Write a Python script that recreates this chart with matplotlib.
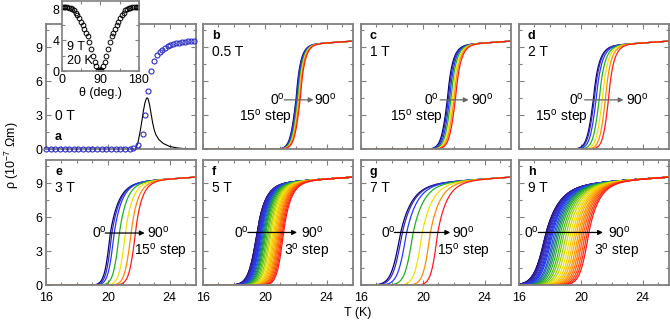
import matplotlib
matplotlib.use("Agg")
import matplotlib.pyplot as plt
import numpy as np
from matplotlib.colors import LinearSegmentedColormap
from matplotlib.ticker import MultipleLocator

plt.rcParams["font.family"] = ["Liberation Sans", "DejaVu Sans"]
plt.rcParams["mathtext.fontset"] = "custom"
plt.rcParams["mathtext.rm"] = "Liberation Sans"
FS = 9

# normal-state resistivity line (T, rho)
NORMAL_T = [16.0, 26.0]
NORMAL_RHO = [8.6, 9.55]

# panel a: 0 T resistivity (circles) and derivative-like peak (line)
A_T = [16.0, 16.3, 16.6, 16.9, 17.2, 17.5, 17.8, 18.1, 18.4, 18.7, 19.0, 19.3,
       19.6, 19.9, 20.2, 20.5, 20.8, 21.1, 21.4, 21.62, 21.98, 22.25, 22.4,
       22.6, 22.8, 22.98, 23.18, 23.35, 23.5, 23.67, 23.86, 24.05, 24.24,
       24.43, 24.62, 24.81, 25.0, 25.19, 25.38, 25.57]
A_RHO = [0.0] * 19 + [0.1, 0.35, 1.37, 3.03, 5.16, 6.85, 7.78, 8.28, 8.57,
                      8.77, 8.95, 9.07, 9.17, 9.25, 9.32, 9.38, 9.43, 9.47,
                      9.51, 9.54, 9.57]
PEAK_T = [16.0, 21.5, 21.8, 21.95, 22.1, 22.2, 22.3, 22.4, 22.5, 22.55, 22.6,
          22.7, 22.8, 22.9, 23.0, 23.1, 23.3, 23.6, 24.0, 24.5, 25.0, 25.7]
PEAK_VAL = [0.0, 0.0, 0.05, 0.6, 1.66, 2.5, 3.4, 4.1, 4.5, 4.52, 4.45, 3.9,
            3.1, 2.3, 1.7, 1.3, 0.85, 0.5, 0.25, 0.12, 0.05, 0.02]

# inset: angular dependence at 9 T, 20 K
THETA = list(range(0, 181, 4))
THETA_RHO = [8.3, 8.3, 8.3, 8.28, 8.25, 8.2, 8.1, 7.9, 7.6, 7.25, 6.85, 6.4,
             5.95, 5.5, 5.0, 4.5, 3.8, 2.8, 1.9, 1.2, 0.6, 0.15, 0.05,
             0.15, 0.6, 1.2, 1.9, 2.8, 3.8, 4.5, 5.0, 5.5, 5.95, 6.4, 6.85,
             7.25, 7.6, 7.9, 8.1, 8.2, 8.25, 8.28, 8.3, 8.3, 8.3, 8.3]

# transitions: midpoint T, lower width, upper width for each angle
B_TM = [22.03, 22.06, 22.10, 22.15, 22.20, 22.25, 22.30]
B_WL = [0.40, 0.40, 0.40, 0.40, 0.40, 0.40, 0.40]
B_TAU = [0.26, 0.26, 0.26, 0.26, 0.26, 0.26, 0.26]
C_TM = [21.60, 21.66, 21.74, 21.83, 21.93, 22.03, 22.12]
C_WL = [0.42, 0.42, 0.42, 0.42, 0.42, 0.42, 0.42]
C_TAU = [0.30, 0.30, 0.30, 0.30, 0.30, 0.30, 0.30]
D_TM = [20.82, 20.88, 21.00, 21.20, 21.40, 21.60, 21.80]
D_WL = [0.43, 0.43, 0.42, 0.41, 0.40, 0.39, 0.38]
D_TAU = [0.33, 0.33, 0.33, 0.32, 0.31, 0.30, 0.30]
E_TM = [20.15, 20.25, 20.40, 20.74, 21.13, 21.50, 21.78]
E_WL = [0.38, 0.38, 0.39, 0.40, 0.41, 0.42, 0.42]
E_TAU = [0.55, 0.53, 0.50, 0.47, 0.44, 0.42, 0.40]
G_TM = [18.53, 18.64, 18.92, 19.35, 19.94, 20.47, 20.95]
G_WL = [0.60, 0.59, 0.56, 0.53, 0.49, 0.46, 0.43]
G_TAU = [0.72, 0.71, 0.69, 0.67, 0.65, 0.62, 0.60]

F_TM = [19.48, 19.48, 19.49, 19.51, 19.53, 19.56, 19.59, 19.63, 19.68, 19.72,
        19.76, 19.82, 19.88, 19.94, 20.00, 20.06, 20.14, 20.22, 20.31, 20.39,
        20.48, 20.56, 20.63, 20.71, 20.79, 20.86, 20.92, 20.99, 21.06, 21.13,
        21.20]
F_WL = [0.56, 0.56, 0.55, 0.55, 0.55, 0.54, 0.54, 0.54, 0.53, 0.53, 0.53,
        0.52, 0.52, 0.51, 0.51, 0.51, 0.50, 0.50, 0.49, 0.49, 0.48, 0.48,
        0.47, 0.47, 0.46, 0.46, 0.45, 0.45, 0.44, 0.44, 0.43]
F_TAU = [0.50, 0.50, 0.50, 0.50, 0.50, 0.49, 0.49, 0.49, 0.49, 0.49, 0.48,
         0.48, 0.48, 0.48, 0.48, 0.47, 0.47, 0.47, 0.47, 0.47, 0.46, 0.46,
         0.46, 0.46, 0.46, 0.46, 0.45, 0.45, 0.45, 0.45, 0.45]
H_TM = [17.70, 17.71, 17.72, 17.74, 17.78, 17.83, 17.88, 17.95, 18.02, 18.08,
        18.15, 18.25, 18.34, 18.44, 18.54, 18.65, 18.78, 18.90, 19.04, 19.18,
        19.32, 19.45, 19.58, 19.70, 19.83, 19.94, 20.05, 20.16, 20.28, 20.39,
        20.50]
H_WL = [0.75, 0.75, 0.75, 0.74, 0.74, 0.73, 0.73, 0.72, 0.72, 0.71, 0.71,
        0.70, 0.70, 0.69, 0.69, 0.68, 0.67, 0.67, 0.66, 0.66, 0.65, 0.64,
        0.64, 0.63, 0.62, 0.62, 0.61, 0.60, 0.59, 0.58, 0.57]
H_TAU = [0.85, 0.85, 0.85, 0.84, 0.84, 0.83, 0.83, 0.82, 0.82, 0.81, 0.81,
         0.80, 0.80, 0.79, 0.79, 0.78, 0.77, 0.77, 0.76, 0.76, 0.75, 0.74,
         0.73, 0.72, 0.71, 0.70, 0.69, 0.68, 0.67, 0.66, 0.65]

ANGLE_COLORS = ["#000080", "#3f2aa3", "#1f3cff", "#1fb01f", "#f2e200",
                "#ff8c00", "#ff1a1a"]

# letter, field label, curves, (0deg x, arrow start, arrow end, 90deg x, y),
# (step text, x, y), arrow colour
PANELS = [
    ("b", "0.5 T", (B_TM, B_WL, B_TAU), (20.82, 21.25, 23.15, 23.9, 4.35),
     ("15$^\\mathrm{o}$ step", 20.02, 2.8), "#666666"),
    ("c", "1 T", (C_TM, C_WL, C_TAU), (20.55, 21.12, 22.96, 23.83, 4.35),
     ("15$^\\mathrm{o}$ step", 19.6, 2.8), "#666666"),
    ("d", "2 T", (D_TM, D_WL, D_TAU), (19.72, 20.24, 22.76, 23.63, 4.35),
     ("15$^\\mathrm{o}$ step", 18.77, 2.8), "#666666"),
    ("e", "3 T", (E_TM, E_WL, E_TAU), (19.46, 19.83, 22.38, 23.28, 4.6),
     ("15$^\\mathrm{o}$ step", 23.4, 2.95), "black"),
    ("f", "5 T", (F_TM, F_WL, F_TAU), (18.51, 18.9, 22.08, 23.05, 4.65),
     ("3$^\\mathrm{o}$ step", 22.72, 2.95), "black"),
    ("g", "7 T", (G_TM, G_WL, G_TAU), (17.77, 18.16, 21.77, 22.64, 4.65),
     ("15$^\\mathrm{o}$ step", 22.64, 2.95), "black"),
    ("h", "9 T", (H_TM, H_WL, H_TAU), (16.82, 17.25, 21.43, 22.5, 4.65),
     ("3$^\\mathrm{o}$ step", 22.33, 2.95), "black"),
]


def transition(t, tm, wl, tau):
    rn = np.interp(t, NORMAL_T, NORMAL_RHO)
    g = np.where(t < tm, 0.5 * (1 + np.tanh((t - tm) / wl)),
                 1 - 0.5 * np.exp(-(t - tm) / tau))
    return rn * g


def style(ax, row, col):
    ax.set_xlim(16, 25.7)
    ax.set_ylim(0, 11)
    ax.set_xticks([16, 20, 24])
    ax.set_yticks([0, 3, 6, 9])
    ax.xaxis.set_minor_locator(MultipleLocator(1))
    ax.yaxis.set_minor_locator(MultipleLocator(1.5))
    ax.tick_params(which="both", direction="in", top=True, right=True,
                   color="#808080", width=0.8, labelsize=FS)
    ax.tick_params(axis="x", pad=4.5)
    ax.tick_params(axis="y", pad=2.5)
    ax.tick_params(which="major", length=3.5)
    ax.tick_params(which="minor", length=2.5)
    for s in ax.spines.values():
        s.set_color("#808080")
        s.set_linewidth(1.3)
    if row == 0:
        ax.tick_params(labelbottom=False)
    if col > 0:
        ax.tick_params(labelleft=False)


def main() -> None:
    fig = plt.figure(figsize=(6.7, 3.27), dpi=100)
    cmap = LinearSegmentedColormap.from_list("angles", ANGLE_COLORS)
    lefts = [46, 203, 361, 519]
    bottoms = [1 - 149.3 / 327, 1 - 285.3 / 327]
    w, h = 150 / 670, 125 / 327
    axes = []
    for r in range(2):
        for c in range(4):
            ax = fig.add_axes([lefts[c] / 670, bottoms[r], w, h])
            style(ax, r, c)
            axes.append(ax)

    t = np.linspace(16, 25.7, 500)

    # panel a
    ax = axes[0]
    ax.plot(PEAK_T, PEAK_VAL, color="black", lw=0.8)
    ax.plot(A_T, A_RHO, "o", mfc="none", mec="#2b2bc4", ms=3.6, mew=0.8,
            clip_on=False, zorder=3)
    ax.text(0.06, 0.27, "0 T", transform=ax.transAxes, fontsize=FS + 1,
            va="center")
    ax.text(0.06, 0.10, "a", transform=ax.transAxes, fontsize=FS,
            fontweight="bold", va="center")

    for ax, (letter, field, curves, arr, step, acol) in zip(axes[1:], PANELS):
        tms, wls, taus = curves
        n = len(tms)
        for i in range(n):
            ax.plot(t, transition(t, tms[i], wls[i], taus[i]),
                    color=cmap(i / (n - 1)), lw=0.9)
        ax.text(0.06, 0.905, letter, transform=ax.transAxes, fontsize=FS,
                fontweight="bold", va="center")
        ax.text(0.06, 0.78, field, transform=ax.transAxes, fontsize=FS + 1,
                va="center")
        x0, xa, xb, x90, y = arr
        ax.text(x0, y, "0$^\\mathrm{o}$", ha="center", va="center",
                fontsize=FS + 1, zorder=6)
        ax.annotate("", xy=(xb, y), xytext=(xa, y),
                    arrowprops=dict(arrowstyle="-|>", color=acol, lw=0.9,
                                    mutation_scale=7, shrinkA=0, shrinkB=0),
                    zorder=6)
        ax.text(x90, y, "90$^\\mathrm{o}$", ha="center", va="center",
                fontsize=FS + 1, zorder=6)
        ax.text(step[1], step[2], step[0], ha="center", va="center",
                fontsize=FS + 1, zorder=6)

    # inset
    axi = fig.add_axes([62 / 670, 1 - 71 / 327, 77 / 670, 70 / 327])
    axi.set_zorder(10)
    axi.set_facecolor("white")
    axi.plot(THETA, THETA_RHO, "o", mfc="none", mec="black", ms=3.4, mew=0.7)
    axi.plot([90], [0.1], marker="*", color="black", ms=5)
    axi.set_xlim(0, 180)
    axi.set_ylim(0, 9.1)
    axi.set_xticks([0, 90, 180])
    axi.set_yticks([0, 4, 8])
    axi.xaxis.set_minor_locator(MultipleLocator(45))
    axi.yaxis.set_minor_locator(MultipleLocator(2))
    axi.tick_params(which="both", direction="in", top=True, right=True,
                    color="#808080", width=0.8, labelsize=FS, pad=2)
    axi.tick_params(which="major", length=3)
    axi.tick_params(which="minor", length=2)
    for s in axi.spines.values():
        s.set_color("#808080")
        s.set_linewidth(1.2)
    axi.set_xlabel("θ (deg.)", fontsize=FS, labelpad=1)
    axi.text(0.07, 0.34, "9 T", transform=axi.transAxes, fontsize=FS,
             va="center")
    axi.text(0.07, 0.14, "20 K", transform=axi.transAxes, fontsize=FS,
             va="center")

    fig.text(12 / 670, 1 - 155 / 327, "ρ (10$^{-7}$ Ωm)", rotation=90,
             ha="center", va="center", fontsize=FS)
    fig.text(358 / 670, 1 - 313 / 327, "T (K)", ha="center", va="center",
             fontsize=FS)

    fig.savefig("out.png", dpi=100)


if __name__ == "__main__":
    main()
